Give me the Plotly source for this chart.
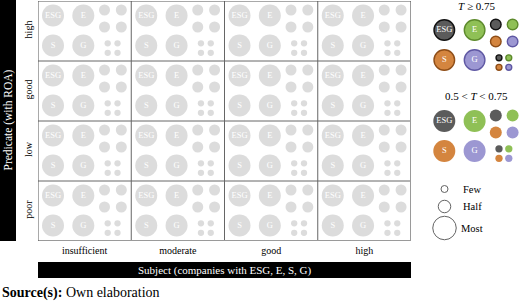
import plotly.graph_objects as go

# ---------------- data ----------------
subjects = ["insufficient", "moderate", "good", "high"]          # columns (x)
predicates = ["high", "good", "low", "poor"]                      # rows, top to bottom (y)
groups = ["ESG", "E", "S", "G"]
group_colors = ["#5b5b5b", "#8fc056", "#d4853f", "#9c97d2"]
group_lines = ["#111111", "#5d8a2c", "#8e4d17", "#5f58a3"]
size_labels = ["Few", "Half", "Most"]
threshold_titles = ["<i>T</i> ≥ 0.75", "0.5 &lt; <i>T</i> &lt; 0.75"]

# ---------------- layout constants (pixels) ----------------
W, H = 520, 301
GL, GR, GT, GB = 38, 411, 1, 241
CW = (GR - GL) / len(subjects)
CH = (GB - GT) / len(predicates)
FONT = "Liberation Serif"
GREY = "#dcdcdc"

# cluster layout offsets (px, relative to cluster anchor)
BIG = [(15, 14.5), (45.3, 14.5), (15, 44.5), (45.3, 44.5)]
MID = [(66.5, 9), (83.3, 9), (66.5, 26), (83.3, 26)]
TINY = [(69.7, 42.3), (79.5, 42.3), (69.7, 51.8), (79.5, 51.8)]

fig = go.Figure()

def cell_xy(ci, ri, off):
    x = ci + off[0] / CW
    y = (len(predicates) - ri) - off[1] / CH
    return x, y

# matrix cells: grey clusters
for gi, g in enumerate(groups):
    for offs, size, txt in [(BIG, 22, True), (MID, 11, False), (TINY, 6.3, False)]:
        xs, ys = [], []
        for ci in range(len(subjects)):
            for ri in range(len(predicates)):
                x, y = cell_xy(ci, ri, offs[gi])
                xs.append(x); ys.append(y)
        fig.add_trace(go.Scatter(
            x=xs, y=ys, mode="markers+text" if txt else "markers",
            text=[g] * len(xs) if txt else None,
            textposition="middle center",
            textfont=dict(family=FONT, size=8.5, color="white"),
            marker=dict(size=size, color=GREY, line=dict(width=0)),
            hoverinfo="skip", showlegend=False, xaxis="x", yaxis="y"))

# legend clusters (pixel overlay axis)
anchors = [(429.3, 15.5), (429.3, 106.5)]
for li, (ax, ay) in enumerate(anchors):
    outlined = li == 0
    for gi, g in enumerate(groups):
        for offs, size, txt in [(BIG, 22, True), (MID, 12, False), (TINY, 7.3, False)]:
            lw = 1.4 if outlined else 0
            fig.add_trace(go.Scatter(
                x=[ax + offs[gi][0]], y=[ay + offs[gi][1]],
                mode="markers+text" if txt else "markers",
                text=[g] if txt else None, textposition="middle center",
                textfont=dict(family=FONT, size=8.5, color="white"),
                marker=dict(size=size - lw, color=group_colors[gi],
                            line=dict(width=lw, color=group_lines[gi])),
                hoverinfo="skip", showlegend=False, xaxis="x2", yaxis="y2"))

# size legend
size_diam = [7, 12.5, 23.5]
size_y = [189, 206.5, 228]
fig.add_trace(go.Scatter(
    x=[444.5] * 3, y=size_y, mode="markers",
    marker=dict(size=size_diam, color="white", line=dict(width=1, color="#222")),
    hoverinfo="skip", showlegend=False, xaxis="x2", yaxis="y2"))

shapes = []
# grid lines
for k in range(1, len(subjects)):
    shapes.append(dict(type="line", xref="x", yref="y", x0=k, x1=k, y0=0, y1=len(predicates),
                       line=dict(color="#666", width=1)))
for k in range(1, len(predicates)):
    shapes.append(dict(type="line", xref="x", yref="y", x0=0, x1=len(subjects), y0=k, y1=k,
                       line=dict(color="#666", width=1)))
# frame (with light shadow on right/bottom)
shapes.append(dict(type="line", xref="x", yref="y", x0=0, x1=len(subjects), y0=0, y1=0,
                   line=dict(color="#9a9a9a", width=2)))
shapes.append(dict(type="line", xref="x", yref="y", x0=len(subjects), x1=len(subjects), y0=0,
                   y1=len(predicates), line=dict(color="#9a9a9a", width=2)))
shapes.append(dict(type="line", xref="x", yref="y", x0=0, x1=len(subjects), y0=len(predicates),
                   y1=len(predicates), line=dict(color="#555", width=1)))
shapes.append(dict(type="line", xref="x", yref="y", x0=0, x1=0, y0=0, y1=len(predicates),
                   line=dict(color="#555", width=1)))
# black title bars
shapes.append(dict(type="rect", xref="x2", yref="y2", x0=0, x1=16, y0=0, y1=GB,
                   fillcolor="black", line=dict(width=0), layer="below"))
shapes.append(dict(type="rect", xref="x2", yref="y2", x0=GL, x1=GR, y0=262, y1=278,
                   fillcolor="black", line=dict(width=0), layer="below"))

annotations = [
    dict(text="Predicate (with ROA)", xref="x2", yref="y2", x=8, y=GB / 2, textangle=-90,
         showarrow=False, font=dict(family=FONT, size=11.5, color="white")),
    dict(text="Subject (companies with ESG, E, S, G)", xref="x2", yref="y2",
         x=(GL + GR) / 2, y=270, showarrow=False, font=dict(family=FONT, size=11, color="white")),
    dict(text="<b>Source(s):</b> Own elaboration", xref="x2", yref="y2", x=0, y=292.5,
         xanchor="left", showarrow=False, font=dict(family=FONT, size=14, color="black")),
    dict(text=threshold_titles[0], xref="x2", yref="y2", x=476, y=6, showarrow=False,
         font=dict(family=FONT, size=11, color="black")),
    dict(text=threshold_titles[1], xref="x2", yref="y2", x=476.5, y=96, showarrow=False,
         font=dict(family=FONT, size=11, color="black")),
]
for lab, yy in zip(size_labels, size_y):
    annotations.append(dict(text=lab, xref="x2", yref="y2", x=461 if lab != "Most" else 459,
                            y=yy, xanchor="left", showarrow=False,
                            font=dict(family=FONT, size=10.5, color="black")))

fig.update_layout(
    width=W, height=H, margin=dict(l=0, r=0, t=0, b=0),
    paper_bgcolor="white", plot_bgcolor="rgba(0,0,0,0)",
    xaxis=dict(domain=[GL / W, GR / W], range=[0, len(subjects)], showgrid=False,
               zeroline=False, showline=False, ticks="", ticklabelstandoff=2,
               tickvals=[i + 0.5 for i in range(len(subjects))], ticktext=subjects,
               tickfont=dict(family=FONT, size=10, color="black"), fixedrange=True),
    yaxis=dict(domain=[1 - GB / H, 1 - GT / H], range=[0, len(predicates)], showgrid=False,
               zeroline=False, showline=False, ticks="", ticklabelstandoff=3,
               tickvals=[len(predicates) - i - 0.5 for i in range(len(predicates))],
               ticktext=predicates, tickangle=-90,
               tickfont=dict(family=FONT, size=10, color="black"), fixedrange=True),
    xaxis2=dict(domain=[0, 1], range=[0, W], visible=False, anchor="y2", fixedrange=True),
    yaxis2=dict(domain=[0, 1], range=[H, 0], visible=False, anchor="x2", fixedrange=True),
    shapes=shapes, annotations=annotations,
)

fig.write_html("out.html", config={"displayModeBar": False})
